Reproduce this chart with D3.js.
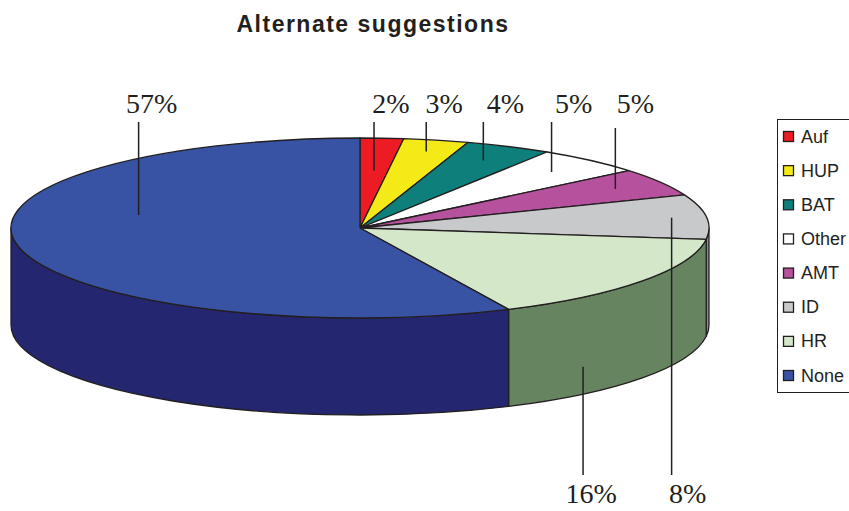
<!DOCTYPE html>
<meta charset="utf-8">
<head>
<style>
body { margin: 0; background: #fff; }
.slice { stroke: #231f20; stroke-width: 1.3px; stroke-linejoin: round; }
.leader { stroke: #231f20; stroke-width: 1.5px; }
.pct { font-family: "Liberation Serif", "Times New Roman", serif; font-size: 28px; fill: #231f20; }
.legend text { font-family: "Liberation Sans", Arial, sans-serif; font-size: 18px; fill: #231f20; }
</style>
</head>
<body>
<script src="https://d3js.org/d3.v7.min.js"></script>
<script>

// data (clockwise from 12 o'clock)
var categories = ["Auf", "HUP", "BAT", "Other", "AMT", "ID", "HR", "None"];
var values = [2, 3, 4, 5, 5, 8, 16, 57];
var pctLabels = ["2%", "3%", "4%", "5%", "5%", "8%", "16%", "57%"];

// colours for top face and darker wall
var topColors  = ["#ed1c24", "#f4ea17", "#0f7f7b", "#ffffff", "#b5519d", "#c8c9cb", "#d4e8c9", "#3953a4"];
var sideColors = ["#8c1016", "#908a0e", "#084a48", "#9a9a9a", "#6b2f5d", "#8b8c8e", "#678461", "#24276f"];

// where the leader lines sit: fraction of radius, label side, label nudge
var leaderK   = [0.64, 0.87, 0.83, 0.83, 0.85, 0.90, 0.79, 0.65];
var labelSide = ["top", "top", "top", "top", "top", "bottom", "bottom", "top"];
var labelDx   = [17, 18, 22, 22, 20, 16, 8, 13];

var W = 849, H = 511;
var cx = 360, cy = 228, rx = 349, ry = 90, depth = 97;

var svg = d3.select("body").append("svg")
    .attr("width", W)
    .attr("height", H);

// title
svg.append("text")
    .attr("x", 373)
    .attr("y", 32)
    .attr("text-anchor", "middle")
    .style("font-family", "Liberation Sans, Arial, sans-serif")
    .style("font-weight", "bold")
    .style("font-size", "23px")
    .style("letter-spacing", "1.5px")
    .style("fill", "#231f20")
    .text("Alternate suggestions");

var pie = d3.pie().sort(null).value(function(d) { return d; });
var arcs = pie(values);

// point on the ellipse for angle a (clockwise from top), k = fraction of radius
function pt(a, k, dy) {
  k = k == null ? 1 : k;
  dy = dy || 0;
  return [cx + k * rx * Math.sin(a), cy - k * ry * Math.cos(a) + dy];
}

function topPath(d) {
  var p0 = pt(d.startAngle), p1 = pt(d.endAngle);
  var large = (d.endAngle - d.startAngle) > Math.PI ? 1 : 0;
  return "M" + cx + "," + cy + "L" + p0 + "A" + rx + "," + ry + " 0 " + large + " 1 " + p1 + "Z";
}

function sidePath(d) {
  var b0 = Math.max(d.startAngle, Math.PI / 2),
      b1 = Math.min(d.endAngle, 3 * Math.PI / 2);
  if (b1 <= b0) return null;
  var p0 = pt(b0), p1 = pt(b1), q0 = pt(b0, 1, depth), q1 = pt(b1, 1, depth);
  return "M" + p0 + "A" + rx + "," + ry + " 0 0 1 " + p1 +
         "L" + q1 + "A" + rx + "," + ry + " 0 0 0 " + q0 + "Z";
}

// walls first, then top faces
svg.append("g").selectAll("path")
    .data(arcs.filter(function(d) { return sidePath(d) != null; }))
  .enter().append("path")
    .attr("class", "slice")
    .attr("d", sidePath)
    .attr("fill", function(d) { return sideColors[d.index]; });

svg.append("g").selectAll("path")
    .data(arcs)
  .enter().append("path")
    .attr("class", "slice")
    .attr("d", topPath)
    .attr("fill", function(d) { return topColors[d.index]; });

// leader lines and percentage labels
var lab = svg.append("g");
arcs.forEach(function(d, i) {
  var mid = (d.startAngle + d.endAngle) / 2;
  var front = Math.cos(mid) < 0 && labelSide[i] == "bottom";
  var p = pt(mid, leaderK[i], front ? depth : 0);
  var y0, y1, ty;
  if (labelSide[i] == "top") {
    y0 = (i == 4 ? 128 : 122);
    // the big slice's line stops short of its centre
    y1 = Math.cos(mid) < 0 ? 215 : p[1];
    ty = 113;
  } else { y0 = p[1]; y1 = 475; ty = 503; }
  lab.append("line")
      .attr("class", "leader")
      .attr("x1", p[0]).attr("x2", p[0])
      .attr("y1", y0).attr("y2", y1);
  lab.append("text")
      .attr("class", "pct")
      .attr("x", p[0] + labelDx[i])
      .attr("y", ty)
      .attr("text-anchor", "middle")
      .text(pctLabels[i]);
});

// legend
var legend = svg.append("g").attr("class", "legend");
legend.append("rect")
    .attr("x", 777.5).attr("y", 119.5)
    .attr("width", 90).attr("height", 273)
    .attr("fill", "none")
    .attr("stroke", "#231f20")
    .attr("stroke-width", 1);

var ly = d3.scaleLinear().domain([0, categories.length - 1]).range([136, 375]);
var item = legend.selectAll(".item")
    .data(categories)
  .enter().append("g")
    .attr("class", "item")
    .attr("transform", function(d, i) { return "translate(783," + ly(i) + ")"; });
item.append("rect")
    .attr("x", 0.5).attr("y", -4.5)
    .attr("width", 10).attr("height", 10)
    .attr("fill", function(d, i) { return topColors[i]; })
    .attr("stroke", "#231f20")
    .attr("stroke-width", 1.3);
item.append("text")
    .attr("x", 18)
    .attr("y", 6.5)
    .text(function(d) { return d; });

</script>
</body>
